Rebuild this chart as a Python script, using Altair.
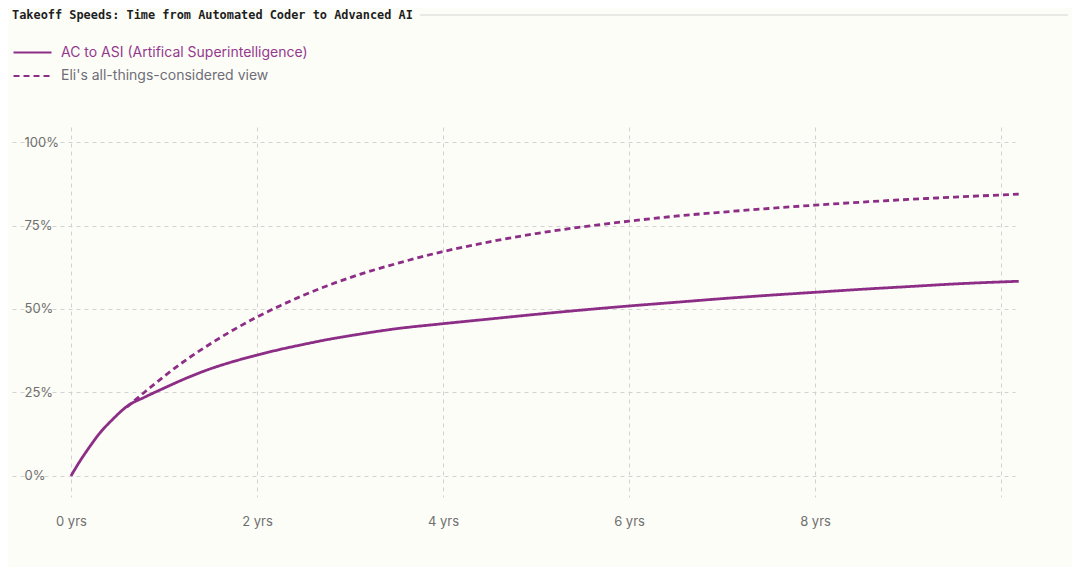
import altair as alt
import pandas as pd

series_names = ["AC to ASI (Artifical Superintelligence)", "Eli's all-things-considered view"]

solid_x = [0, 0.1, 0.2, 0.3, 0.45, 0.6, 0.8, 1.0, 1.25, 1.5, 1.75, 2.0, 2.25, 2.5, 2.75, 3.0,
           3.5, 4.0, 4.5, 5.0, 5.5, 6.0, 6.5, 7.0, 7.5, 8.0, 8.5, 9.0, 9.5, 10.19]
solid_y = [0, 4.6, 8.7, 12.5, 17.0, 20.8, 23.7, 26.3, 29.4, 32.1, 34.3, 36.2, 37.9, 39.4, 40.8, 42.0,
           44.1, 45.6, 47.0, 48.4, 49.7, 50.9, 52.0, 53.1, 54.1, 55.0, 55.9, 56.7, 57.5, 58.3]

dashed_x = [0.6, 0.8, 1.0, 1.25, 1.5, 1.75, 2.0, 2.25, 2.5, 2.75, 3.0, 3.5, 4.0, 4.5, 5.0, 5.5,
            6.0, 6.5, 7.0, 7.5, 8.0, 8.5, 9.0, 9.5, 10.19]
dashed_y = [20.6, 25.3, 29.8, 35.0, 39.6, 43.8, 47.6, 51.0, 54.1, 56.9, 59.4, 63.6, 67.2, 70.1, 72.6, 74.6,
            76.3, 77.8, 79.0, 80.1, 81.1, 82.0, 82.8, 83.5, 84.4]

x_ticks = [0, 2, 4, 6, 8, 10]
y_ticks = [0, 25, 50, 75, 100]

title_text = "Takeoff Speeds: Time from Automated Coder to Advanced AI"

PURPLE = "#8d2e86"
BG = "#fdfdf8"

df = pd.concat([
    pd.DataFrame({"years": solid_x, "pct": solid_y, "series": series_names[0]}),
    pd.DataFrame({"years": dashed_x, "pct": dashed_y, "series": series_names[1]}),
])

legend_kw = dict(title=None, orient="none", legendX=0, legendY=-81.5,
                 symbolType="stroke", symbolSize=1444, symbolStrokeWidth=2.2,
                 labelFont="Inter", labelFontSize=14, labelOffset=8, labelLimit=500,
                 clipHeight=14, rowPadding=9.5,
                 labelColor={"expr": "datum.index == 0 ? '#94398e' : '#6e6e78'"})

lines = alt.Chart(df).mark_line(strokeWidth=2.8, interpolate="monotone").encode(
    x=alt.X("years:Q",
            scale=alt.Scale(domain=[-0.634, 10.15], nice=False, zero=False),
            axis=alt.Axis(values=x_ticks, title=None, domain=False, ticks=False, tickSize=0,
                          labelExpr="datum.value == 10 ? '' : datum.value + ' yrs'",
                          labelPadding=18, labelBaseline="top", labelFontSize=13,
                          labelColor="#6f6f6f", labelFont="Inter",
                          grid=True, gridDash=[4, 4], gridColor="#d2d2d2", gridWidth=1)),
    y=alt.Y("pct:Q",
            scale=alt.Scale(domain=[-6.3, 104.5], nice=False, zero=False),
            axis=alt.Axis(values=y_ticks, title=None, domain=False, ticks=False, tickSize=0,
                          labelExpr="datum.value + '%'", labelAlign="left", labelPadding=-12,
                          labelFontSize=13, labelColor="#6f6f6f", labelFont="Inter",
                          labelBaseline="middle",
                          grid=True, gridDash=[4, 4], gridColor="#d2d2d2", gridWidth=1)),
    color=alt.Color("series:N",
                    scale=alt.Scale(domain=series_names, range=[PURPLE, PURPLE]),
                    legend=alt.Legend(**legend_kw)),
    strokeDash=alt.StrokeDash("series:N",
                              scale=alt.Scale(domain=series_names, range=[[1, 0], [6, 4]]),
                              legend=alt.Legend(**legend_kw)),
)

title_rule = alt.Chart(pd.DataFrame({"a": [0]})).mark_rule(color="#d4d4d4", strokeWidth=1).encode(
    x=alt.value(408), x2=alt.value(1056), y=alt.value(-112)
)

title_mark = alt.Chart(pd.DataFrame({"t": [title_text]})).mark_text(
    font="DejaVu Sans Mono", fontSize=11.9, fontWeight="bold", color="#1e1e1e",
    align="left", baseline="middle"
).encode(x=alt.value(0), y=alt.value(-112), text="t:N")

chart = alt.layer(lines, title_rule, title_mark).properties(
    width=1003, height=370,
    padding={"left": 4, "top": 119, "right": 57, "bottom": 70},
    autosize=alt.AutoSizeParams(type="none"),
    background=BG,
).configure_view(stroke=None)

chart.save("out.html", embed_options={"renderer": "svg", "actions": False})
